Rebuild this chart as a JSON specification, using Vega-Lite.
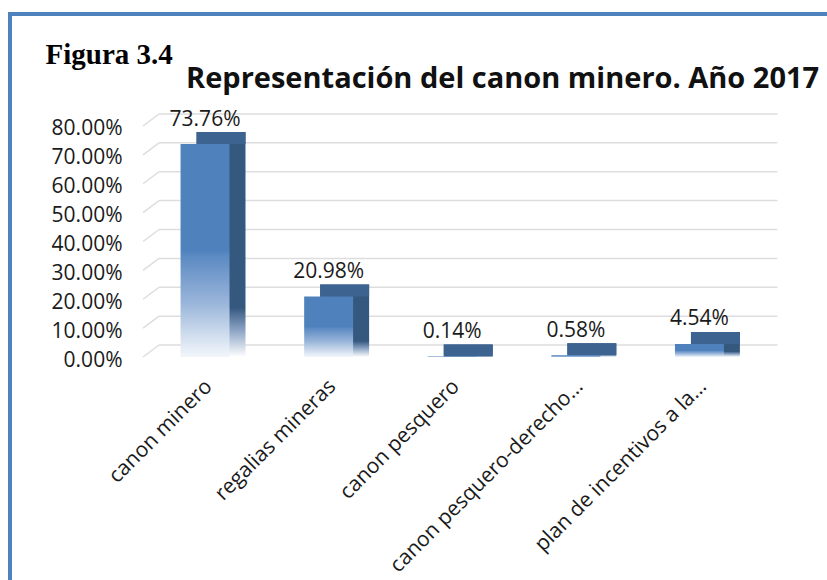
{
  "$schema": "https://vega.github.io/schema/vega-lite/v6.json",
  "width": 823,
  "height": 572,
  "autosize": {"type": "none"},
  "padding": {"left": 10, "top": 14, "right": -6, "bottom": -6},
  "background": "white",
  "config": {
    "view": {"stroke": "#4F81BD", "strokeWidth": 4},
    "font": "Open Sans"
  },
  "title": {
    "text": "Representación del canon minero. Año 2017",
    "anchor": "start",
    "frame": "group",
    "dx": 176,
    "offset": -103,
    "baseline": "alphabetic",
    "font": "Open Sans",
    "fontSize": 29,
    "fontWeight": "bold",
    "color": "#111111"
  },
  "datasets": {
    "bars": [
      {"cat": "canon minero", "v": 0.7376},
      {"cat": "regalias mineras", "v": 0.2098},
      {"cat": "canon pesquero", "v": 0.0014},
      {"cat": "canon pesquero-derecho…", "v": 0.0058},
      {"cat": "plan de incentivos a la…", "v": 0.0454}
    ],
    "grid": [
      {"g": 0}, {"g": 0.1}, {"g": 0.2}, {"g": 0.3}, {"g": 0.4},
      {"g": 0.5}, {"g": 0.6}, {"g": 0.7}, {"g": 0.8}
    ]
  },
  "layer": [
    {
      "data": {"name": "grid"},
      "mark": {"type": "rule", "color": "#DDDDDD", "strokeWidth": 1.5, "xOffset": -62, "x2Offset": 62},
      "encoding": {
        "x": {
          "datum": "canon minero",
          "type": "nominal",
          "scale": {
            "type": "band",
            "domain": ["canon minero", "regalias mineras", "canon pesquero", "canon pesquero-derecho…", "plan de incentivos a la…"],
            "paddingInner": 0,
            "paddingOuter": 0.8293,
            "align": 0.728
          },
          "axis": {
            "orient": "bottom",
            "offset": -241,
            "domain": false,
            "ticks": false,
            "tickSize": 0,
            "grid": false,
            "title": null,
            "labelAngle": -45,
            "labelAlign": "right",
            "labelBaseline": "middle",
            "labelPadding": 38,
            "labelOffset": -12,
            "labelFont": "Open Sans",
            "labelFontSize": 21,
            "labelColor": "#1a1a1a",
            "labelLimit": 400
          }
        },
        "x2": {"datum": "plan de incentivos a la…"},
        "y": {
          "field": "g",
          "type": "quantitative",
          "scale": {"domain": [-0.8346, 1.1463], "nice": false, "zero": false},
          "axis": {
            "orient": "left",
            "offset": -150,
            "values": [0, 0.1, 0.2, 0.3, 0.4, 0.5, 0.6, 0.7, 0.8],
            "format": ".2%",
            "domain": false,
            "ticks": false,
            "tickSize": 0,
            "grid": false,
            "labelPadding": 38,
            "labelOffset": 15,
            "labelFont": "Open Sans",
            "labelFontSize": 21,
            "labelColor": "#1a1a1a",
            "title": "Figura 3.4",
            "titleAngle": 0,
            "titleX": -115,
            "titleY": 49,
            "titleAlign": "left",
            "titleBaseline": "alphabetic",
            "titleFont": "Liberation Serif",
            "titleFontSize": 29,
            "titleFontWeight": "bold",
            "titleColor": "#000000"
          }
        }
      }
    },
    {
      "data": {"name": "grid"},
      "mark": {"type": "rule", "color": "#DDDDDD", "strokeWidth": 1.5, "xOffset": -62, "x2Offset": -78, "y2Offset": 12},
      "encoding": {
        "x": {"datum": "canon minero", "type": "nominal"},
        "x2": {"datum": "canon minero"},
        "y": {"field": "g", "type": "quantitative"},
        "y2": {"field": "g"}
      }
    },
    {
      "data": {"name": "bars"},
      "mark": {
        "type": "bar",
        "width": {"band": 0.396},
        "y2Offset": 12,
        "color": {
          "gradient": "linear", "x1": 0, "y1": 0, "x2": 0, "y2": 1,
          "stops": [
            {"offset": 0, "color": "#35587F"},
            {"offset": 0.78, "color": "#35587F"},
            {"offset": 0.88, "color": "#8AA3C4"},
            {"offset": 1, "color": "#FFFFFF"}
          ]
        }
      },
      "encoding": {
        "x": {"field": "cat", "type": "nominal"},
        "y": {"field": "v", "type": "quantitative"},
        "y2": {"datum": 0}
      }
    },
    {
      "data": {"name": "bars"},
      "mark": {"type": "bar", "width": {"band": 0.396}, "y2Offset": 12, "color": "#3D6391"},
      "encoding": {
        "x": {"field": "cat", "type": "nominal"},
        "y": {"field": "v", "type": "quantitative"},
        "y2": {"field": "v"}
      }
    },
    {
      "data": {"name": "bars"},
      "mark": {
        "type": "bar",
        "width": {"band": 0.396},
        "xOffset": -16,
        "x2Offset": -16,
        "yOffset": 12,
        "y2Offset": 12,
        "color": {
          "gradient": "linear", "x1": 0, "y1": 0, "x2": 0, "y2": 1,
          "stops": [
            {"offset": 0, "color": "#4F81BD"},
            {"offset": 0.5, "color": "#4F81BD"},
            {"offset": 0.52, "color": "#5A89C2"},
            {"offset": 0.75, "color": "#9BB6DB"},
            {"offset": 0.92, "color": "#D8E3F1"},
            {"offset": 1, "color": "#F2F6FB"}
          ]
        }
      },
      "encoding": {
        "x": {"field": "cat", "type": "nominal"},
        "y": {"field": "v", "type": "quantitative"},
        "y2": {"datum": 0}
      }
    },
    {
      "data": {"name": "bars"},
      "mark": {"type": "text", "xOffset": -16, "yOffset": -6.5, "baseline": "alphabetic", "font": "Open Sans", "fontSize": 21, "color": "#1a1a1a"},
      "encoding": {
        "x": {"field": "cat", "type": "nominal"},
        "y": {"field": "v", "type": "quantitative"},
        "text": {"field": "v", "type": "quantitative", "format": ".2%"}
      }
    }
  ]
}
